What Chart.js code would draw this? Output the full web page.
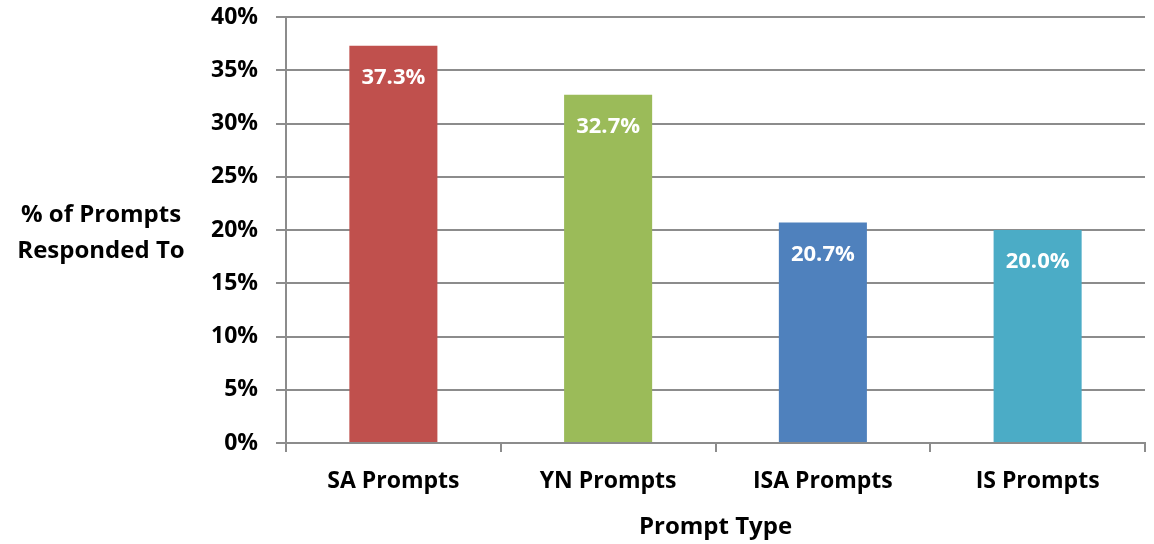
<!DOCTYPE html>
<html>
<head>
<meta charset="utf-8">
<script src="https://cdn.jsdelivr.net/npm/chart.js@4/dist/chart.umd.min.js"></script>
<style>
  html, body { margin: 0; padding: 0; background: #fff; }
  #wrap { width: 1154px; height: 544px; }
</style>
</head>
<body>
<div id="wrap"><canvas id="promptChart" width="1154" height="544"></canvas></div>
<script>
const promptTypes = ['SA Prompts', 'YN Prompts', 'ISA Prompts', 'IS Prompts'];
const responseRates = [37.3, 32.7, 20.7, 20.0];
const barColors = ['#C0504D', '#9BBB59', '#4F81BD', '#4BACC6'];
const yTitleLines = ['% of Prompts', 'Responded To'];

const fontFamily = '"Open Sans", sans-serif';
const gridColor = '#8c8c8c';

// value labels sit inside the top of each bar
const barValueLabels = {
  id: 'barValueLabels',
  afterDatasetsDraw(chart) {
    const ctx = chart.ctx;
    const meta = chart.getDatasetMeta(0);
    ctx.save();
    ctx.fillStyle = '#ffffff';
    ctx.font = 'bold 22px ' + fontFamily;
    ctx.textAlign = 'center';
    ctx.textBaseline = 'middle';
    meta.data.forEach((bar, i) => {
      ctx.fillText(responseRates[i].toFixed(1) + '%', bar.x, bar.y + 32);
    });
    ctx.restore();
  }
};

// horizontal two-line y axis title on the left
const sideTitle = {
  id: 'sideTitle',
  afterDraw(chart) {
    const ctx = chart.ctx;
    ctx.save();
    ctx.fillStyle = '#000';
    ctx.font = 'bold 24px ' + fontFamily;
    ctx.textAlign = 'center';
    ctx.textBaseline = 'middle';
    ctx.fillText(yTitleLines[0], 101, 215);
    ctx.fillText(yTitleLines[1], 101, 251);
    ctx.restore();
  }
};

new Chart(document.getElementById('promptChart'), {
  type: 'bar',
  data: {
    labels: promptTypes,
    datasets: [{
      data: responseRates,
      backgroundColor: barColors,
      borderWidth: 0,
      categoryPercentage: 1,
      barPercentage: 0.41
    }]
  },
  options: {
    responsive: false,
    animation: false,
    layout: { padding: { left: 0, right: 9, top: 17, bottom: 0 } },
    plugins: {
      legend: { display: false },
      tooltip: { enabled: false }
    },
    scales: {
      x: {
        afterFit: (scale) => { scale.height = 101; },
        grid: {
          offset: true,
          drawOnChartArea: false,
          drawTicks: true,
          tickLength: 9,
          color: gridColor,
          lineWidth: 2
        },
        border: { color: gridColor, width: 2 },
        ticks: {
          color: '#000',
          padding: 16,
          font: { family: fontFamily, size: 23, weight: 'bold' }
        },
        title: {
          display: true,
          text: 'Prompt Type',
          color: '#000',
          padding: { top: 6, bottom: 2 },
          font: { family: fontFamily, size: 24, weight: 'bold' }
        }
      },
      y: {
        min: 0,
        max: 40,
        afterFit: (scale) => {
          scale.width = 286;
          scale.paddingTop = 0;
        },
        grid: {
          color: gridColor,
          lineWidth: 2,
          tickLength: 10
        },
        border: { color: gridColor, width: 2 },
        ticks: {
          stepSize: 5,
          color: '#000',
          padding: 18,
          font: { family: fontFamily, size: 23, weight: 'bold' },
          callback: (v) => v + '%'
        }
      }
    }
  },
  plugins: [barValueLabels, sideTitle]
});
</script>
</body>
</html>
